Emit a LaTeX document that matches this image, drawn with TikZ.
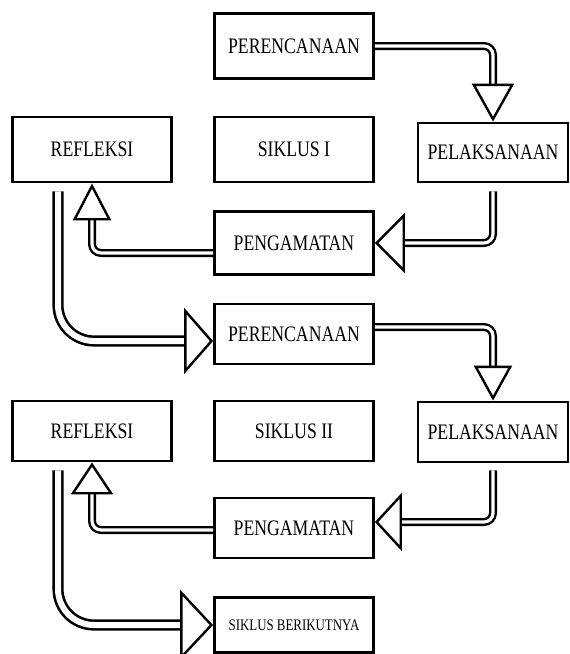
\documentclass[tikz,border=0pt]{standalone}
\usepackage{fontspec}
\usepackage{graphicx}
\setmainfont{Liberation Serif}
\usetikzlibrary{arrows.meta}

\newcommand{\tall}[1]{\scalebox{1}[1.25]{#1}}

\tikzset{
  block/.style={rectangle, draw, line width=2.8pt, inner sep=0pt,
    minimum width=159pt, minimum height=60pt,
    font=\fontsize{17.7}{20}\selectfont},
  pipe/.style={double, double distance=3.2pt, line width=2.4pt, rounded corners=9pt},
  wide/.style={double distance=6pt, line width=2.6pt, rounded corners=36pt}
}

\begin{document}
\begin{tikzpicture}[x=1pt, y=-1pt]
	\useasboundingbox (0,0) rectangle (570,654);
	% siklus I
	\node [block, minimum height=65pt] (P1) at (294,46) {\tall{PERENCANAAN}};
	\node [block, minimum height=65pt] (S1) at (294,149.5) {\tall{SIKLUS I}};
	\node [block, minimum height=65pt] (R1) at (92,149.5) {\tall{REFLEKSI}};
	\node [block, minimum width=150pt, minimum height=59pt] (L1) at (493,152.5) {\tall{PELAKSANAAN}};
	\node [block, minimum height=63pt] (G1) at (294,243) {\tall{PENGAMATAN}};
	% siklus II
	\node [block] (P2) at (294,334) {\tall{PERENCANAAN}};
	\node [block] (S2) at (294,431) {\tall{SIKLUS II}};
	\node [block] (R2) at (92,431) {\tall{REFLEKSI}};
	\node [block, minimum width=150pt] (L2) at (493,432) {\tall{PELAKSANAAN}};
	\node [block] (G2) at (294,528) {\tall{PENGAMATAN}};
	\node [block, minimum height=55pt, font=\fontsize{12.9}{15}\selectfont] (B) at (294,625) {\tall{SIKLUS BERIKUTNYA}};
	
	\draw [pipe, -{Triangle[open, length=38pt, width=42pt, line width=2.4pt]}]
	(P1) -| (L1);
	\draw [pipe, shorten <=8pt, -{Triangle[open, length=30pt, width=60pt, line width=2.4pt]}]
	(L1) |- (G1);
	\draw [pipe, -{Triangle[open, length=37pt, width=38pt, line width=2.4pt]}]
	([yshift=-10pt]G1.west) -| (R1);
	\draw [pipe, wide, shorten <=8pt, -{Triangle[open, length=29pt, width=66pt, line width=2.4pt]}]
	([xshift=-34pt]R1.south) |- ([yshift=-7pt]P2.west);
	
	\draw [pipe, -{Triangle[open, length=35pt, width=38pt, line width=2.4pt]}]
	([yshift=7pt]P2.east) -| (L2);
	\draw [pipe, shorten <=7pt, -{Triangle[open, length=27pt, width=58pt, line width=2.4pt]}]
	(L2) |- ([yshift=6pt]G2.east);
	\draw [pipe, -{Triangle[open, length=32pt, width=42pt, line width=2.4pt]}]
	([yshift=-2pt]G2.west) -| (R2);
	\draw [pipe, wide, shorten <=8pt, -{Triangle[open, length=33pt, width=70pt, line width=2.4pt]}]
	([xshift=-34pt]R2.south) |- (B.west);
\end{tikzpicture}
\end{document}
